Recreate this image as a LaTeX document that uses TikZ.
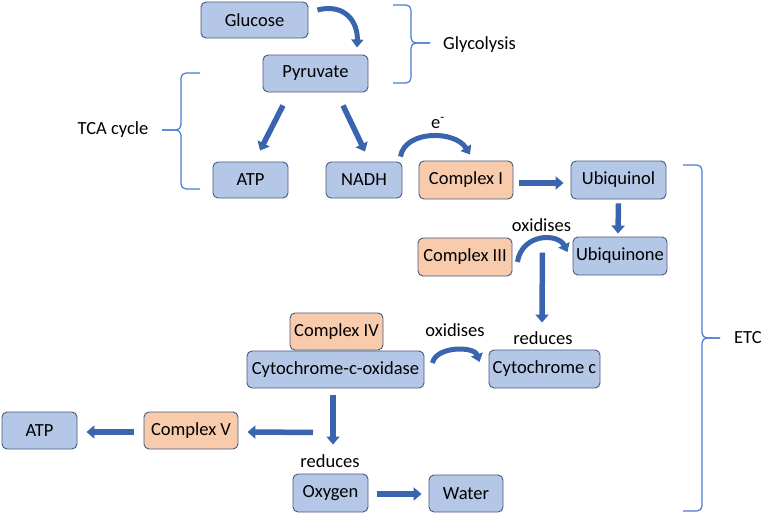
\documentclass[tikz,border=0pt]{standalone}
\usepackage{fontspec}
\setmainfont{Carlito}
\usetikzlibrary{arrows.meta}
\definecolor{boxfill}{HTML}{B4C7E7}
\definecolor{boxline}{HTML}{46597F}
\definecolor{orfill}{HTML}{F8CBAD}
\definecolor{arrblue}{HTML}{3A64AE}
\definecolor{bracecol}{HTML}{4A7BD0}
\tikzset{
  box/.style={draw=boxline, line width=0.9pt, fill=boxfill, rounded corners=5pt,
    inner sep=0pt, font=\fontsize{18.5}{21}\selectfont, text=black},
  obox/.style={box, fill=orfill},
  lbl/.style={inner sep=0pt, font=\fontsize{18.5}{21}\selectfont, text=black},
  blk/.style={draw=arrblue, line width=5.5pt, -{Triangle[width=13pt,length=8pt]}},
  curvy/.style={draw=arrblue, line width=5pt, -{Triangle[width=12pt,length=8pt]}},
  brace/.style={draw=bracecol, line width=1.2pt, rounded corners=5pt},
}
\begin{document}
\begin{tikzpicture}[x=1pt,y=-1pt]
\useasboundingbox (0,0) rectangle (761,514);

% boxes
\node[box, minimum width=107pt, minimum height=36pt] (glu) at (254.5,20) {Glucose};
\node[box, minimum width=105pt, minimum height=37pt] (pyr) at (315.5,73.5) {Pyruvate};
\node[box, minimum width=75pt, minimum height=36pt] (atpa) at (250.5,180) {ATP};
\node[box, minimum width=76pt, minimum height=36pt] (nadh) at (364,180) {NADH};
\node[obox, minimum width=94pt, minimum height=38pt] (ci) at (466,180) {Complex I};
\node[box, minimum width=95pt, minimum height=38pt] (ubl) at (618.5,180) {Ubiquinol};
\node[obox, minimum width=94pt, minimum height=38pt] (ciii) at (465,257) {Complex III};
\node[box, minimum width=94pt, minimum height=38pt] (ubn) at (620,256) {Ubiquinone};
\node[obox, minimum width=93pt, minimum height=37pt] (civ) at (336.5,331.5) {Complex IV};
\node[box, minimum width=177pt, minimum height=37pt] (cox) at (335.5,369.5) {Cytochrome-c-oxidase};
\node[box, minimum width=111pt, minimum height=38pt] (cytc) at (544.5,369) {Cytochrome c};
\node[box, minimum width=75pt, minimum height=37pt] (atpb) at (39.5,430.5) {ATP};
\node[obox, minimum width=94pt, minimum height=37pt] (cv) at (191,430.5) {Complex V};
\node[box, minimum width=75pt, minimum height=38pt] (oxy) at (330.5,493) {Oxygen};
\node[box, minimum width=74pt, minimum height=37pt] (wat) at (466,493.5) {Water};

% labels
\node[lbl] (em) at (438,123) {e\textsuperscript{-}};
\node[lbl] (ox1) at (541.5,225) {oxidises};
\node[lbl] (ox2) at (455,330) {oxidises};
\node[lbl] (red1) at (543,338) {reduces};
\node[lbl] (red2) at (330,461) {reduces};
\node[lbl, anchor=west] (gly) at (443,45) {Glycolysis};
\node[lbl] (tca) at (113,130) {TCA cycle};
\node[lbl, anchor=west] (etc) at (734,338) {ETC};

% braces
\draw[brace] (393,5) -- (411,5) -- (411,43) -- (430,43);
\draw[brace] (430,43) -- (411,43) -- (411,83) -- (393,83);
\draw[brace] (200,73) -- (181,73) -- (181,130) -- (162,130);
\draw[brace] (162,130) -- (181,130) -- (181,189) -- (200,189);
\draw[brace] (683,165) -- (702,165) -- (702,338) -- (720,338);
\draw[brace] (720,338) -- (702,338) -- (702,511) -- (683,511);

% straight block arrows
\draw[blk] ([xshift=-32.5pt,yshift=-13pt]pyr.south) -- ([xshift=9.5pt,yshift=11pt]atpa.north);
\draw[blk] ([xshift=27.5pt,yshift=-13pt]pyr.south) -- ([xshift=1pt,yshift=10pt]nadh.north);
\draw[blk] ([xshift=6pt,yshift=-3pt]ci.east) -- ([xshift=-7pt,yshift=-3pt]ubl.west);
\draw[blk] ([yshift=-4pt]ubl.south) -- ([xshift=-2pt,yshift=3pt]ubn.north);
\draw[blk] ([xshift=30pt,yshift=-15pt]ciii.north east) -- ([xshift=-2.5pt,yshift=27pt]cytc.north);
\draw[blk] ([xshift=-2.5pt,yshift=-7pt]cox.south) -- ([xshift=2.5pt,yshift=29pt]oxy.north);
\draw[blk] ([xshift=-22.5pt,yshift=-44pt]cox.south) -- ([xshift=9pt,yshift=-1.5pt]cv.east);
\draw[blk] ([xshift=-10pt,yshift=-1.5pt]cv.west) -- ([xshift=9pt,yshift=-1.5pt]atpb.east);
\draw[blk] ([xshift=9pt,yshift=-1pt]oxy.east) -- ([xshift=-7pt,yshift=-0.5pt]wat.west);

% curved arrows
\draw[curvy] ([xshift=9pt,yshift=10pt]glu.east) .. controls (345,3) and (358,22) .. ([xshift=41.5pt,yshift=7pt]pyr.north);
\draw[curvy] ([xshift=-2pt,yshift=5pt]nadh.north east) .. controls (405,130) and (455,130) .. ([xshift=4pt,yshift=6pt]ci.north);
\draw[curvy] ([xshift=5pt,yshift=-5pt]ciii.east) .. controls (522,233) and (558,233) .. ([xshift=-5pt,yshift=4pt]ubn.west);
\draw[curvy] ([xshift=8pt,yshift=6.5pt]cox.east) .. controls (436,346) and (474,346) .. ([xshift=-9pt,yshift=7pt]cytc.west);
\end{tikzpicture}
\end{document}
